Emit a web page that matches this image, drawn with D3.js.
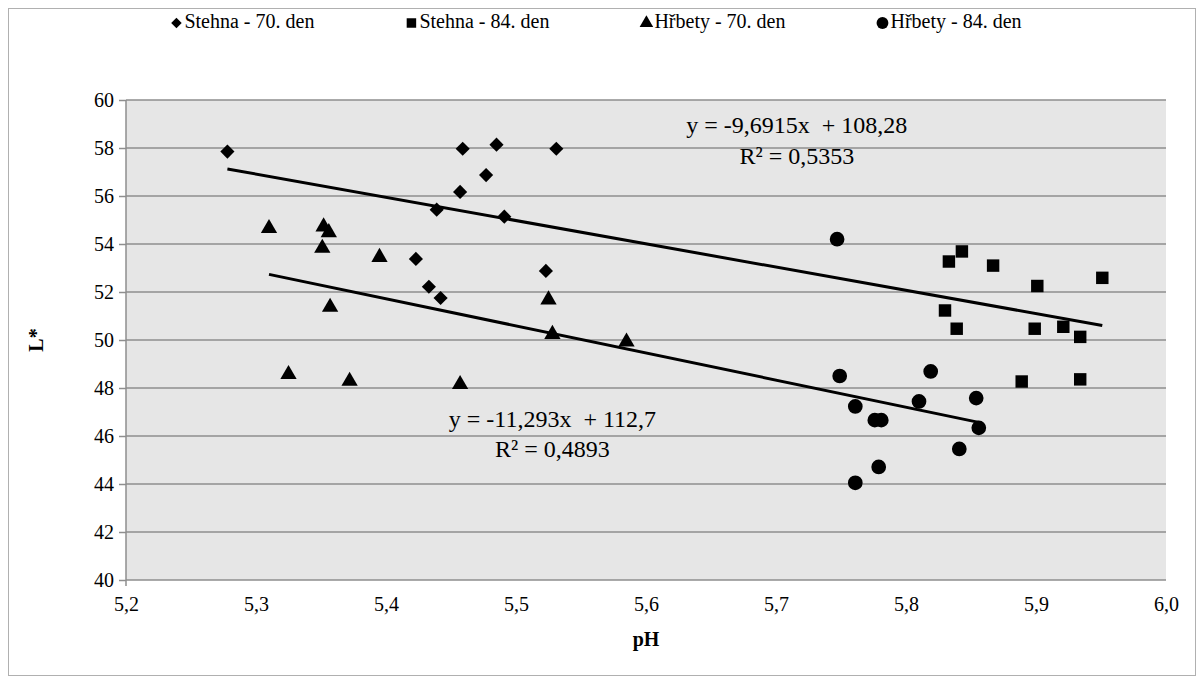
<!DOCTYPE html>
<html>
<head>
<meta charset="utf-8">
<script src="https://cdn.jsdelivr.net/npm/d3@7"></script>
<style>
  body { margin: 0; background: #fff; }
  svg text { font-family: "Liberation Serif", "DejaVu Serif", serif; fill: #000; }
</style>
</head>
<body>
<div id="chart"></div>
<script>
// series names (legend order)
const seriesNames = ["Stehna - 70. den", "Stehna - 84. den", "Hřbety - 70. den", "Hřbety - 84. den"];

// values (pH, L*)
const stehna70_pH = [5.278, 5.459, 5.485, 5.531, 5.477, 5.457, 5.439, 5.491, 5.423, 5.523, 5.433, 5.442];
const stehna70_L  = [57.85, 57.97, 58.14, 57.97, 56.87, 56.17, 55.43, 55.14, 53.38, 52.88, 52.22, 51.75];

const stehna84_pH = [5.843, 5.833, 5.867, 5.901, 5.951, 5.830, 5.839, 5.899, 5.921, 5.934, 5.889, 5.934];
const stehna84_L  = [53.69, 53.27, 53.10, 52.25, 52.59, 51.23, 50.47, 50.47, 50.55, 50.13, 48.27, 48.36];

const hrbety70_pH = [5.310, 5.352, 5.356, 5.351, 5.395, 5.357, 5.525, 5.528, 5.325, 5.372, 5.457, 5.585];
const hrbety70_L  = [54.65, 54.72, 54.48, 53.83, 53.45, 51.37, 51.68, 50.24, 48.57, 48.29, 48.15, 49.92];

const hrbety84_pH = [5.747, 5.749, 5.819, 5.761, 5.810, 5.854, 5.776, 5.781, 5.856, 5.841, 5.779, 5.761];
const hrbety84_L  = [54.20, 48.50, 48.69, 47.23, 47.44, 47.58, 46.66, 46.66, 46.34, 45.46, 44.71, 44.05];

// linear trend lines (Stehna, Hřbety)
const trendSlopes     = [-9.6915, -11.293];
const trendIntercepts = [108.28, 112.7];
const trendEquations  = ["y = -9,6915x  + 108,28", "y = -11,293x  + 112,7"];
const trendR2         = ["R² = 0,5353", "R² = 0,4893"];

// axes
const xTicks = [5.2, 5.3, 5.4, 5.5, 5.6, 5.7, 5.8, 5.9, 6.0];
const yTicks = [40, 42, 44, 46, 48, 50, 52, 54, 56, 58, 60];

const W = 1204, H = 684;
const margin = {top: 100, right: 38, bottom: 104, left: 126};
const serif = "Liberation Serif, DejaVu Serif, serif";

const svg = d3.select("#chart").append("svg")
    .attr("width", W).attr("height", H)
    .attr("font-family", serif);

// outer chart frame
svg.append("rect")
    .attr("x", 8.5).attr("y", 8.5)
    .attr("width", W - 17).attr("height", H - 17)
    .attr("fill", "#fff").attr("stroke", "#b0b0b0").attr("stroke-width", 1);

const x = d3.scaleLinear().domain([5.2, 6.0]).range([margin.left, W - margin.right]);
const y = d3.scaleLinear().domain([40, 60]).range([H - margin.bottom, margin.top]);

const comma = v => String(v).replace(".", ",");

// plot area
svg.append("rect")
    .attr("x", x(5.2)).attr("y", y(60))
    .attr("width", x(6.0) - x(5.2)).attr("height", y(40) - y(60))
    .attr("fill", "#e6e6e6");

// gridlines
svg.append("g")
  .selectAll("line")
  .data(yTicks)
  .join("line")
    .attr("x1", x(5.2)).attr("x2", x(6.0))
    .attr("y1", d => y(d)).attr("y2", d => y(d))
    .attr("stroke", "#8e8e8e").attr("stroke-width", 1.5);

// y axis
const yAxis = svg.append("g")
    .attr("transform", `translate(${x(5.2)},0)`)
    .call(d3.axisLeft(y).tickValues(yTicks).tickSize(7).tickPadding(5).tickFormat(d => d))
    .attr("font-family", serif).attr("font-size", 20);
yAxis.select(".domain").attr("stroke", "#8e8e8e").attr("stroke-width", 1.5)
    .attr("d", `M0,${y(60)}V${y(40) + 6}`);
yAxis.selectAll(".tick line").attr("stroke", "#8e8e8e").attr("stroke-width", 1.5);
yAxis.selectAll(".tick text").attr("fill", "#000");

// x axis
const xAxis = svg.append("g")
    .attr("transform", `translate(0,${y(40)})`)
    .call(d3.axisBottom(x).tickValues(xTicks).tickSize(0).tickPadding(17).tickFormat(d => comma(d3.format(".1f")(d))))
    .attr("font-family", serif).attr("font-size", 20);
xAxis.select(".domain").remove();
xAxis.selectAll(".tick text").attr("fill", "#000");

// axis titles
svg.append("text")
    .attr("x", x(5.6)).attr("y", y(40) + 66)
    .attr("text-anchor", "middle")
    .attr("font-size", 20).attr("font-weight", "bold")
    .text("pH");
svg.append("text")
    .attr("transform", `translate(43,${y(50)}) rotate(-90)`)
    .attr("text-anchor", "middle")
    .attr("font-size", 20).attr("font-weight", "bold")
    .text("L*");

// trend lines
const groupPH = [stehna70_pH.concat(stehna84_pH), hrbety70_pH.concat(hrbety84_pH)];
groupPH.forEach((vals, i) => {
  const ext = d3.extent(vals);
  const f = v => trendSlopes[i] * v + trendIntercepts[i];
  svg.append("line")
      .attr("x1", x(ext[0])).attr("y1", y(f(ext[0])))
      .attr("x2", x(ext[1])).attr("y2", y(f(ext[1])))
      .attr("stroke", "#000").attr("stroke-width", 3);
});

// markers
const shapes = [
  {type: d3.symbolSquare, size: 100, rotate: 45},
  {type: d3.symbolSquare, size: 155, rotate: 0},
  {type: d3.symbolTriangle, size: 115, rotate: 0},
  {type: d3.symbolCircle, size: 170, rotate: 0}
];
const seriesData = [
  d3.zip(stehna70_pH, stehna70_L),
  d3.zip(stehna84_pH, stehna84_L),
  d3.zip(hrbety70_pH, hrbety70_L),
  d3.zip(hrbety84_pH, hrbety84_L)
];
seriesData.forEach((pts, i) => {
  const s = shapes[i];
  svg.append("g")
    .selectAll("path")
    .data(pts)
    .join("path")
      .attr("d", d3.symbol().type(s.type).size(s.size))
      .attr("transform", d => `translate(${x(d[0])},${y(d[1])}) rotate(${s.rotate})`)
      .attr("fill", "#000");
});

// trend equations
const eqPos = [[5.716, 58.85, 57.55], [5.528, 46.6, 45.35]];
eqPos.forEach((p, i) => {
  svg.append("text")
      .attr("x", x(p[0])).attr("y", y(p[1]))
      .attr("text-anchor", "middle").attr("dominant-baseline", "middle")
      .attr("font-size", 24).style("white-space", "pre")
      .text(trendEquations[i]);
  svg.append("text")
      .attr("x", x(p[0])).attr("y", y(p[2]))
      .attr("text-anchor", "middle").attr("dominant-baseline", "middle")
      .attr("font-size", 24)
      .text(trendR2[i]);
});

// legend
const legend = svg.append("g");
const legendGap = 91;
let lx = 0;
const legendShapes = [
  {type: d3.symbolSquare, size: 55, rotate: 45},
  {type: d3.symbolSquare, size: 90, rotate: 0},
  {type: d3.symbolTriangle, size: 80, rotate: 0},
  {type: d3.symbolCircle, size: 110, rotate: 0}
];
seriesNames.forEach((name, i) => {
  const s = legendShapes[i];
  const item = legend.append("g").attr("transform", `translate(${lx},0)`);
  item.append("path")
      .attr("d", d3.symbol().type(s.type).size(s.size))
      .attr("transform", `translate(6,0) rotate(${s.rotate})`)
      .attr("fill", "#000");
  const t = item.append("text")
      .attr("x", 14).attr("y", 0)
      .attr("dominant-baseline", "middle")
      .attr("font-size", 20)
      .text(name);
  lx += 14 + t.node().getComputedTextLength() + legendGap;
});
lx -= legendGap;
legend.attr("transform", `translate(${(W - lx) / 2 - 6},23)`);
</script>
</body>
</html>
